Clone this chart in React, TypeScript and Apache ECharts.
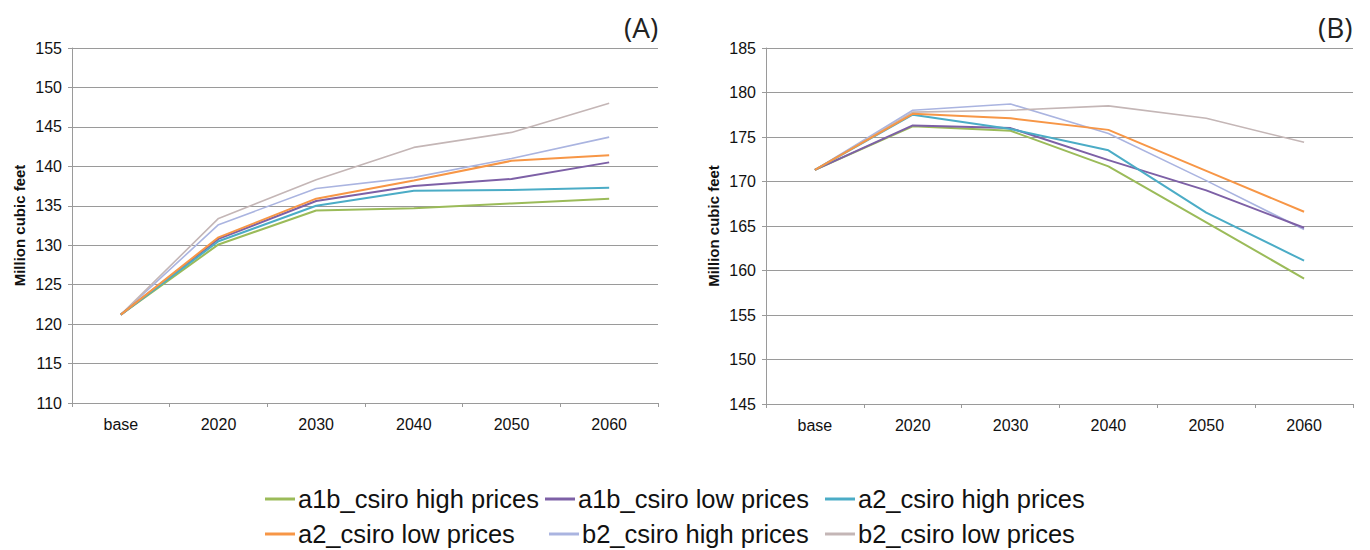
import React, { useEffect, useRef } from "react";
import * as echarts from "echarts";

const categories = ["base", "2020", "2030", "2040", "2050", "2060"];
const seriesNames = [
  "a1b_csiro high prices",
  "a1b_csiro low prices",
  "a2_csiro high prices",
  "a2_csiro low prices",
  "b2_csiro high prices",
  "b2_csiro low prices",
];
const seriesColors = ["#9bbb59", "#7d60a6", "#4bacc6", "#f79646", "#aab4e0", "#c4b6b6"];

// Panel A
const a1bHighA = [121.2, 130.1, 134.4, 134.7, 135.3, 135.9];
const a1bLowA = [121.2, 130.8, 135.6, 137.5, 138.4, 140.5];
const a2HighA = [121.2, 130.5, 135.0, 136.9, 137.0, 137.3];
const a2LowA = [121.2, 131.0, 135.9, 138.2, 140.7, 141.4];
const b2HighA = [121.2, 132.6, 137.2, 138.6, 141.0, 143.7];
const b2LowA = [121.2, 133.4, 138.3, 142.4, 144.3, 148.0];

// Panel B
const a1bHighB = [171.3, 176.2, 175.7, 171.7, 165.4, 159.1];
const a1bLowB = [171.3, 176.3, 176.0, 172.4, 169.0, 164.8];
const a2HighB = [171.3, 177.5, 175.9, 173.5, 166.5, 161.1];
const a2LowB = [171.3, 177.6, 177.1, 175.8, 171.2, 166.6];
const b2HighB = [171.3, 178.0, 178.7, 175.4, 170.1, 164.6];
const b2LowB = [171.3, 177.8, 178.0, 178.5, 177.1, 174.4];

const panelA = [a1bHighA, a1bLowA, a2HighA, a2LowA, b2HighA, b2LowA];
const panelB = [a1bHighB, a1bLowB, a2HighB, a2LowB, b2HighB, b2LowB];

const yTitle = "Million cubic feet";
const panelTitles = ["(A)", "(B)"];

const FONT = "'Liberation Sans', Arial, sans-serif";

export default function App() {
  const ref = useRef<HTMLDivElement>(null);
  useEffect(() => {
    if (!ref.current) return;
    const chart = echarts.init(ref.current, undefined, { renderer: "svg" });

    const xAxisBase = (gridIndex: number) => ({
      type: "category",
      gridIndex,
      data: categories,
      boundaryGap: true,
      axisLine: { lineStyle: { color: "#9a9a9a", width: 1 } },
      axisTick: { show: true, length: 4, lineStyle: { color: "#9a9a9a" } },
      axisLabel: { color: "#111", fontSize: 16, fontFamily: FONT, margin: 13 },
    });
    const yAxisBase = (gridIndex: number, min: number, max: number) => ({
      type: "value",
      gridIndex,
      min,
      max,
      interval: 5,
      name: yTitle,
      nameLocation: "middle",
      nameGap: 45,
      nameTextStyle: { color: "#111", fontSize: 15, fontWeight: "bold", fontFamily: FONT },
      axisLine: { show: true, lineStyle: { color: "#9a9a9a", width: 1 } },
      axisTick: { show: true, length: 4, lineStyle: { color: "#9a9a9a" } },
      axisLabel: { color: "#111", fontSize: 16, fontFamily: FONT, margin: 10 },
      splitLine: { show: true, lineStyle: { color: "#9a9a9a", width: 1 } },
    });

    const series: any[] = [];
    [panelA, panelB].forEach((panel, p) => {
      panel.forEach((vals, i) => {
        series.push({
          type: "line",
          name: seriesNames[i],
          xAxisIndex: p,
          yAxisIndex: p,
          data: vals,
          symbol: "none",
          color: seriesColors[i],
          lineStyle: { width: i >= 4 ? 1.6 : 2, color: seriesColors[i] },
          z: i >= 4 ? 1 : 2,
        });
      });
    });

    const legendPos = [
      [265, 486],
      [545, 486],
      [825, 486],
      [265, 521],
      [549, 521],
      [825, 521],
    ];
    const legends = seriesNames.map((n, i) => ({
      data: [n],
      left: legendPos[i][0],
      top: legendPos[i][1],
      icon: "rect",
      itemWidth: 30,
      itemHeight: 3,
      itemGap: 0,
      padding: 0,
      selectedMode: false,
      textStyle: { color: "#111", fontSize: 25.5, fontFamily: FONT, padding: [0, 0, 0, -2] },
    }));

    chart.setOption({
      animation: false,
      backgroundColor: "#ffffff",
      title: [
        {
          text: panelTitles[0],
          left: 619,
          top: 8,
          textStyle: { fontSize: 28, fontWeight: "normal", fontFamily: "'Open Sans', sans-serif", color: "#222" },
        },
        {
          text: panelTitles[1],
          left: 1313,
          top: 8,
          textStyle: { fontSize: 28, fontWeight: "normal", fontFamily: "'Open Sans', sans-serif", color: "#222" },
        },
      ],
      legend: legends,
      grid: [
        { left: 72, top: 48, width: 586, height: 355 },
        { left: 766, top: 48, width: 587, height: 356 },
      ],
      xAxis: [xAxisBase(0), xAxisBase(1)],
      yAxis: [yAxisBase(0, 110, 155), yAxisBase(1, 145, 185)],
      series,
    });
    return () => chart.dispose();
  }, []);
  return (
    <div
      ref={ref}
      style={{ position: "absolute", left: 0, top: 0, width: 1370, height: 550, background: "#fff" }}
    />
  );
}
